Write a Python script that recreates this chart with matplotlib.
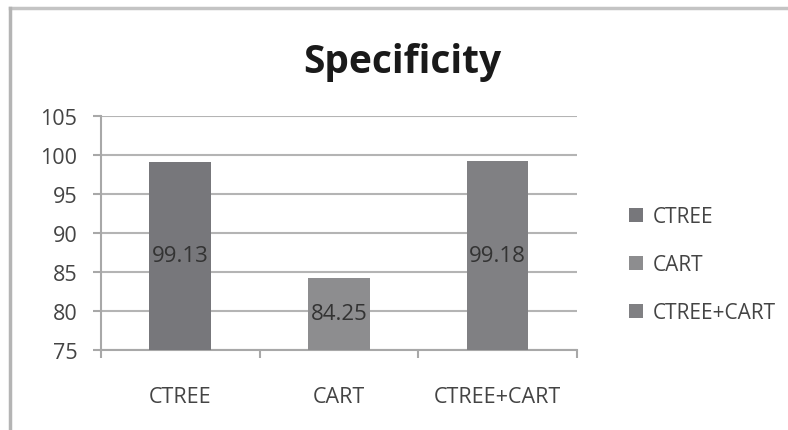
import numpy as np
import matplotlib.pyplot as plt
from matplotlib.lines import Line2D
from matplotlib.patches import Patch

plt.rcParams['font.family'] = ['Open Sans', 'DejaVu Sans']

categories = ['CTREE', 'CART', 'CTREE+CART']
values = [99.13, 84.25, 99.18]
labels = ['99.13', '84.25', '99.18']
colors = ['#77777b', '#8d8d8f', '#808083']
yticks = [75, 80, 85, 90, 95, 100, 105]

fig = plt.figure(figsize=(7.88, 4.31), dpi=100)
ax = fig.add_axes([0.128, 0.1856, 0.604, 0.543])

x = np.arange(len(categories))
bars = ax.bar(x, values, width=0.39, color=colors, zorder=3)
ax.bar_label(bars, labels=labels, label_type='center', fontsize=16, color='#333333')

ax.set_ylim(75, 105)
ax.set_yticks(yticks)
ax.set_xlim(-0.5, len(categories) - 0.5)
ax.set_xticks(x)
ax.set_xticklabels(categories)
ax.set_xticks(np.arange(len(categories) + 1) - 0.5, minor=True)
ax.grid(axis='y', color='#b4b4b4', linewidth=1.5, zorder=0)
ax.tick_params(axis='y', length=6, width=1.5, color='#a8a8a8', labelsize=15.5,
               labelcolor='#444444', pad=11)
ax.tick_params(axis='x', which='major', length=0, labelsize=15.5,
               labelcolor='#444444', pad=26)
ax.tick_params(axis='x', which='minor', length=6, width=1.5, color='#a8a8a8')
for s in ['top', 'right']:
    ax.spines[s].set_visible(False)
for s in ['left', 'bottom']:
    ax.spines[s].set_color('#a8a8a8')
    ax.spines[s].set_linewidth(1.5)

fig.text(0.51, 0.855, 'Specificity', ha='center', va='center', fontsize=28,
         fontweight='bold', color='#1a1a1a')

handles = [Patch(facecolor=c, edgecolor='none') for c in colors]
fig.legend(handles, categories, loc='center left', bbox_to_anchor=(0.775, 0.384),
           frameon=False, fontsize=15, handlelength=0.65, handleheight=0.65,
           handletextpad=0.45, labelspacing=1.3, labelcolor='#444444')

# image frame (top and left edges)
fig.add_artist(Line2D([0.0125, 1.0], [0.979, 0.979], color='#c4c4c4', linewidth=2.5,
                      transform=fig.transFigure))
fig.add_artist(Line2D([0.0125, 0.0125], [0.0, 0.979], color='#b4b4b4', linewidth=2.5,
                      transform=fig.transFigure))

fig.savefig('out.png', dpi=100)
